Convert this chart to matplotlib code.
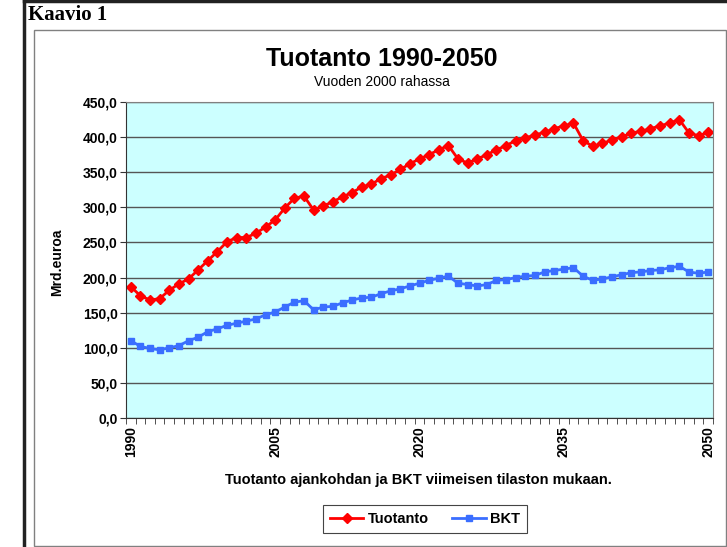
import matplotlib.pyplot as plt
import numpy as np
from matplotlib.patches import Rectangle
from matplotlib.ticker import FuncFormatter, FixedLocator

years = np.arange(1990, 2051)

tuotanto = [187, 174, 168, 170, 182, 191, 198, 211, 224, 237,
            251, 257, 257, 263, 272, 282, 299, 313, 316, 296,
            302, 308, 315, 321, 329, 333, 341, 346, 354, 362,
            369, 375, 382, 388, 369, 363, 369, 375, 382, 388,
            395, 399, 403, 407, 412, 416, 420, 395, 387, 391,
            396, 400, 406, 408, 412, 416, 420, 425, 406, 402,
            407]

bkt = [110, 102, 99, 97, 100, 103, 110, 115, 123, 127,
       132, 135, 138, 141, 147, 151, 158, 165, 167, 154,
       158, 159, 164, 168, 171, 172, 177, 181, 184, 188,
       192, 196, 199, 202, 192, 190, 188, 190, 196, 197,
       200, 202, 203, 208, 210, 212, 214, 202, 196, 198,
       201, 204, 207, 208, 210, 211, 214, 216, 208, 206,
       208]

label_years = [1990, 2005, 2020, 2035, 2050]

W, H = 727, 547
fig = plt.figure(figsize=(W / 100, H / 100), dpi=100)


def fx(px):
    return px / W


def fy(py):
    return 1 - py / H


# outer page frame and chart box
fig.add_artist(plt.Line2D([fx(24), fx(24)], [0, 1], transform=fig.transFigure,
                          color='#222222', lw=2.5))
fig.add_artist(plt.Line2D([fx(24), 1], [fy(1), fy(1)], transform=fig.transFigure,
                          color='#222222', lw=2.5))
fig.add_artist(Rectangle((fx(34), fy(546)), fx(726) - fx(34), fy(30) - fy(546),
                         transform=fig.transFigure, fill=False,
                         edgecolor='#808080', lw=1))

fig.text(fx(28), fy(20), 'Kaavio 1', family='Liberation Serif', weight='bold',
         fontsize=15, va='baseline', ha='left')
fig.text(fx(382), fy(59), 'Tuotanto 1990-2050', family='Liberation Sans',
         weight='bold', fontsize=18, ha='center', va='center')
fig.text(fx(382), fy(82), 'Vuoden 2000 rahassa', family='Liberation Sans',
         fontsize=10, ha='center', va='center')

ax = fig.add_axes([fx(126), fy(418), fx(713) - fx(126), fy(102) - fy(418)])
ax.set_facecolor('#CCFFFF')

ax.plot(years, tuotanto, color='#FF0000', lw=2, marker='D', markersize=5,
        label='Tuotanto')
ax.plot(years, bkt, color='#3A6EFF', lw=2, marker='s', markersize=5,
        label='BKT')

ax.set_xlim(1989.5, 2050.5)
ax.set_ylim(0, 450)
ax.set_yticks(np.arange(0, 451, 50))
ax.yaxis.set_major_formatter(FuncFormatter(lambda v, p: f'{v:.1f}'.replace('.', ',')))
ax.grid(axis='y', color='#555555', lw=1)
ax.set_axisbelow(True)

ax.xaxis.set_major_locator(FixedLocator(label_years))
ax.xaxis.set_minor_locator(FixedLocator(np.arange(1989.5, 2051, 1)))
ax.tick_params(axis='x', which='major', length=0, pad=6)
ax.tick_params(axis='x', which='minor', length=4, direction='out', color='#333333')
ax.tick_params(axis='y', length=4, direction='out', color='#333333', pad=2)
for lab in ax.get_xticklabels():
    lab.set_rotation(90)
for lab in ax.get_xticklabels() + ax.get_yticklabels():
    lab.set_family('Liberation Sans')
    lab.set_fontweight('bold')
    lab.set_fontsize(10)

for s in ['top', 'right']:
    ax.spines[s].set_color('#808080')
for s in ['left', 'bottom']:
    ax.spines[s].set_color('#333333')

fig.text(fx(57), fy(262), 'Mrd.euroa', family='Liberation Sans', weight='bold',
         fontsize=10, rotation=90, ha='center', va='center')
fig.text(fx(418), fy(480), 'Tuotanto ajankohdan ja BKT viimeisen tilaston mukaan.',
         family='Liberation Sans', weight='bold', fontsize=10.5, ha='center',
         va='center')

leg = fig.legend(loc='center', bbox_to_anchor=(fx(425), fy(519)), ncol=2,
                 prop={'family': 'Liberation Sans', 'weight': 'bold', 'size': 10.5},
                 fancybox=False, edgecolor='#444444', framealpha=1,
                 handlelength=2.3, handletextpad=0.3, columnspacing=1.6,
                 borderpad=0.5)
leg.get_frame().set_linewidth(0.8)

fig.savefig('out.png', dpi=100)
